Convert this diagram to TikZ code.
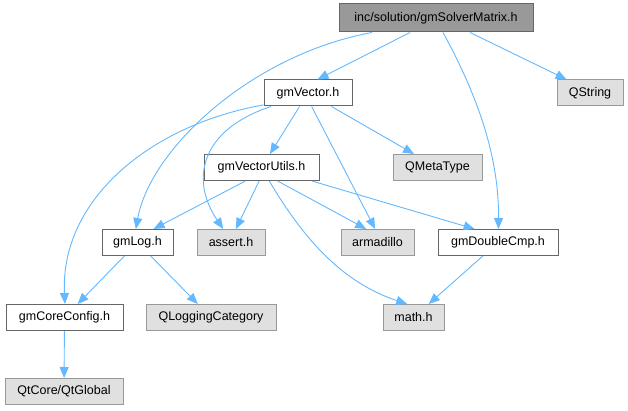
\documentclass[tikz,border=0pt]{standalone}
\usepackage{fontspec}
\setmainfont{Liberation Sans}
\usetikzlibrary{arrows.meta}
\definecolor{edgeblue}{HTML}{63B8FF}
\definecolor{rootfill}{HTML}{999999}
\definecolor{rootdraw}{HTML}{666666}
\definecolor{sysfill}{HTML}{E0E0E0}
\definecolor{sysdraw}{HTML}{999999}
\tikzset{
  filebox/.style={draw=rootdraw, fill=white, line width=1pt, minimum height=26pt,
    inner sep=0pt, font=\fontsize{12.5}{14}\selectfont},
  rootbox/.style={filebox, fill=rootfill},
  sysbox/.style={filebox, draw=sysdraw, fill=sysfill},
  incl/.style={draw=edgeblue, line width=0.9pt, -{Triangle[length=11pt,width=9pt]}}
}
\begin{document}
\begin{tikzpicture}[x=1pt, y=-1pt]
    \useasboundingbox (0,0) rectangle (628,411);

    % Dateien
    \node[rootbox, minimum width=194pt, minimum height=28pt] (root) at (436,18) {inc/solution/gmSolverMatrix.h};
    \node[filebox, minimum width=88pt] (vec) at (308,93) {gmVector.h};
    \node[sysbox, minimum width=66pt] (qstr) at (590,93) {QString};
    \node[filebox, minimum width=115pt] (utils) at (261.5,167.5) {gmVectorUtils.h};
    \node[sysbox, minimum width=89pt] (qmeta) at (437.5,167.5) {QMetaType};
    \node[filebox, minimum width=71pt] (log) at (137.5,242.5) {gmLog.h};
    \node[sysbox, minimum width=68pt] (assert) at (231,242.5) {assert.h};
    \node[sysbox, minimum width=73pt] (arma) at (377.5,242.5) {armadillo};
    \node[filebox, minimum width=120pt] (dcmp) at (498,242.5) {gmDoubleCmp.h};
    \node[filebox, minimum width=117pt] (core) at (64.5,317.5) {gmCoreConfig.h};
    \node[sysbox, minimum width=130pt] (qlog) at (211,317.5) {QLoggingCategory};
    \node[sysbox, minimum width=61pt] (math) at (413.5,317.5) {math.h};
    \node[sysbox, minimum width=118pt] (qtg) at (64,391.5) {QtCore/QtGlobal};

    % Abhaengigkeiten von gmSolverMatrix.h
    \draw[incl] ([xshift=-26pt]root.south) -- (vec.55);
    \draw[incl] ([xshift=-64pt]root.south) .. controls (250,55) and (150,150) .. (log.97);
    \draw[incl] ([xshift=34pt]root.south) -- (qstr.150);
    \draw[incl] ([xshift=7pt]root.south) .. controls (480,100) and (499,160) .. (dcmp.88);

    % Abhaengigkeiten von gmVector.h
    \draw[incl] (vec) -- (utils);
    \draw[incl] (vec) -- (qmeta);
    \draw[incl] (vec.-75) -- (arma.100);
    \draw[incl] (vec.-160) .. controls (200,130) and (190,180) .. (assert.120);
    \draw[incl] (vec.-165) .. controls (150,125) and (60,200) .. (core.88);

    % Abhaengigkeiten von gmVectorUtils.h
    \draw[incl] (utils.-140) -- (log.40);
    \draw[incl] (utils.-100) -- (assert.70);
    \draw[incl] (utils.-40) -- (arma.130);
    \draw[incl] (utils.-15) -- (dcmp.150);
    \draw[incl] (utils.-60) .. controls (310,250) and (350,285) .. (math.115);

    % uebrige
    \draw[incl] (log) -- (core);
    \draw[incl] (log) -- (qlog);
    \draw[incl] (dcmp) -- (math);
    \draw[incl] (core) -- (qtg);
\end{tikzpicture}
\end{document}
